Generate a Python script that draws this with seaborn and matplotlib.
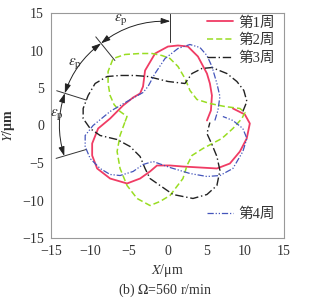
import numpy as np
import pandas as pd
import matplotlib
matplotlib.use("Agg")
import matplotlib.pyplot as plt
from matplotlib.lines import Line2D
import seaborn as sns

# ---------------- data (units: µm) ----------------
labels = ["第1周", "第2周", "第3周", "第4周"]

x1 = [5.08, 5.59, 5.72, 5.46, 5.08, 3.92, 2.63, 1.35, 0.06, -1.6, -2.89, -3.15, -3.53, -4.43,
      -5.72, -7.39, -8.93, -9.7, -9.7, -9.06, -7.39, -5.21, -3.53, -2.25, -1.35, 0.32, 1.99,
      4.18, 6.36, 8.03, 9.32, 10.2, 10.6, 9.96, 8.42]
y1 = [0.67, 2.0, 4.0, 5.6, 6.93, 9.2, 10.53, 10.67, 10.53, 9.6, 7.33, 5.2, 4.27, 3.73,
      2.67, 0.93, -0.4, -2.4, -4.0, -5.73, -7.07, -7.73, -7.07, -6.13, -5.33, -5.33, -5.47,
      -5.6, -5.73, -5.07, -3.47, -1.73, 0.27, 1.47, 2.27]

x2 = [-5.46, -5.21, -6.11, -6.88, -7.39, -7.65, -7.65, -7.0, -5.46, -3.53, -1.99, -0.71, 0.32,
      1.35, 2.25, 2.89, 3.79, 5.46, 7.39, 9.32, 9.96, 9.58, 8.42, 7.0, 4.56, 3.15, 2.51, 1.99,
      0.32, -0.96, -2.25, -3.92, -5.21, -6.11, -6.49, -6.11, -5.46]
y2 = [0.53, 1.2, 1.87, 2.8, 4.0, 5.6, 7.2, 8.93, 9.47, 9.6, 9.6, 9.33, 8.93,
      7.87, 6.27, 4.67, 3.47, 2.93, 2.53, 2.27, 1.73, 0.93, -0.4, -1.73, -3.07, -4.0, -5.33, -7.07,
      -9.33, -10.13, -10.67, -9.73, -8.0, -5.73, -3.47, -1.33, 0.53]

x3 = [9.7, 10.22, 9.83, 8.93, 7.65, 5.72, 4.43, 3.15, 2.25, 0.06, -2.51, -4.18, -6.11, -7.78,
      -9.32, -10.22, -10.86, -10.86, -9.96, -8.68, -6.49, -4.82, -3.53, -2.89, -2.25, -0.96,
      0.71, 3.28, 5.08, 6.36, 6.75, 6.36, 5.72, 5.08, 5.46]
y3 = [1.87, 3.2, 4.67, 5.87, 6.93, 7.73, 7.6, 6.93, 5.6, 5.87, 6.53, 6.67, 6.67, 6.53,
      5.6, 4.0, 2.27, 0.93, -0.4, -1.33, -1.87, -2.8, -4.13, -5.73, -7.07, -8.0,
      -9.2, -9.73, -9.2, -8.0, -6.0, -4.13, -2.53, -1.07, 0.4]

x4 = [6.1, 6.49, 6.75, 6.36, 5.72, 5.08, 4.18, 2.89, 1.35, -0.32, -1.61, -2.51, -3.15, -5.21,
      -7.39, -9.58, -10.6, -10.6, -9.96, -8.68, -7.39, -6.11, -4.43, -3.15, -1.86, 0.32, 2.89,
      5.08, 6.75, 8.42, 9.7, 10.22, 9.7, 8.42, 7.13]
y4 = [0.67, 2.0, 3.87, 5.6, 7.87, 9.33, 10.4, 10.8, 10.27, 8.93, 6.93, 5.2, 4.4, 3.2,
      1.87, 0.0, -1.33, -2.8, -4.4, -5.73, -6.53, -6.67, -6.13, -5.2, -4.8, -5.6, -6.4,
      -6.8, -6.67, -5.73, -3.47, -1.73, -0.4, 0.67, 1.2]

ticks = [-15, -10, -5, 0, 5, 10, 15]

# annotation geometry (angles in degrees, radius in µm)
arc_radius = 13.9
arc_angles = [88.5, 128, 162, 197]
eps_pos_x = [-6.0, -11.9, -14.2]
eps_pos_y = [14.1, 8.3, 1.5]

# ---------------- styling ----------------
sns.set_theme(style="white")
plt.rcParams["font.family"] = ["Liberation Serif", "Noto Sans CJK SC"]
plt.rcParams["mathtext.fontset"] = "stix"

colors = ["#f03c64", "#99dd22", "#222222", "#4455bb"]
dashes = [(None, None), (4, 2), (6, 2, 1, 2), (5, 1.5, 1, 1.5, 1, 1.5)]
widths = [1.3, 1.1, 1.0, 0.9]

fig = plt.figure(figsize=(3.15, 3.02), dpi=100)
ax = fig.add_axes([51 / 315, 1 - 238 / 302, 233 / 315, 225 / 302])

series = [(x1, y1), (x2, y2), (x3, y3), (x4, y4)]
handles = []
for i, (xs, ys) in enumerate(series):
    df = pd.DataFrame({"x": xs, "y": ys})
    sns.lineplot(data=df, x="x", y="y", sort=False, estimator=None, ax=ax,
                 color=colors[i], lw=widths[i])
    ln = ax.lines[-1]
    if dashes[i][0] is not None:
        ln.set_dashes(dashes[i])
    h = Line2D([], [], color=colors[i], lw=widths[i])
    if dashes[i][0] is not None:
        h.set_dashes(dashes[i])
    handles.append(h)

ax.set_xlim(-15, 15)
ax.set_ylim(-15, 15)
ax.set_xticks(ticks)
ax.set_yticks(ticks)
ax.set_xticklabels([str(t).replace("-", "\u2212") for t in ticks])
ax.set_yticklabels([str(t).replace("-", "\u2212") for t in ticks])
ax.tick_params(direction="in", length=3, width=0.6, colors="#999999",
               labelcolor="#333333", labelsize=10, pad=5)
for s in ax.spines.values():
    s.set_color("#999999")
    s.set_linewidth(0.8)

ax.set_xlabel(r"$X$/μm", fontsize=10, color="#333333", labelpad=3)
ax.set_ylabel(r"$\mathbf{\mathit{Y}}$/μm", fontsize=10, color="#333333",
              fontweight="bold", labelpad=4)
fig.text(0.525, 1 - 290 / 302, r"(b) $\mathit{\Omega}$=560 r/min", ha="center", va="center",
         fontsize=10, color="#333333")

# legends
leg1 = ax.legend(handles[:3], labels[:3], loc="upper right", bbox_to_anchor=(1.0, 1.025),
                 frameon=False, fontsize=10.5, handlelength=1.8, handletextpad=0.4,
                 labelspacing=0.3, borderaxespad=0.2)
for t in leg1.get_texts():
    t.set_color("#333333")
ax.add_artist(leg1)
leg2 = ax.legend(handles[3:], labels[3:], loc="lower right", bbox_to_anchor=(1.0, 0.035),
                 frameon=False, fontsize=10.5, handlelength=1.8, handletextpad=0.4,
                 borderaxespad=0.2)
for t in leg2.get_texts():
    t.set_color("#333333")

# annotation: arcs with double arrows, radial tick lines, ε_p labels
def polar(r, a):
    return r * np.cos(np.radians(a)), r * np.sin(np.radians(a))

for a0, a1 in zip(arc_angles[:-1], arc_angles[1:]):
    theta = np.radians(a1 - a0)
    rad = np.tan(theta / 2) / 2
    ax.annotate("", xy=polar(arc_radius, a1), xytext=polar(arc_radius, a0),
                arrowprops=dict(arrowstyle="<|-|>,head_length=0.55,head_width=0.18",
                                connectionstyle=f"arc3,rad={rad:.3f}", color="#222222",
                                lw=0.7, shrinkA=0, shrinkB=0, mutation_scale=10))

x_top, _ = polar(arc_radius, arc_angles[0])
ax.plot([x_top, x_top], [15, 11.2], color="#333333", lw=0.7)
for a in arc_angles[1:]:
    (xa, ya), (xb, yb) = polar(11.0, a), polar(15.0, a)
    ax.plot([xa, xb], [ya, yb], color="#333333", lw=0.7)

for xe, ye in zip(eps_pos_x, eps_pos_y):
    ax.text(xe, ye, r"$\varepsilon_{\mathrm{p}}$", fontsize=11, ha="center", va="center",
            color="#333333")

fig.savefig("out.png", dpi=100)
